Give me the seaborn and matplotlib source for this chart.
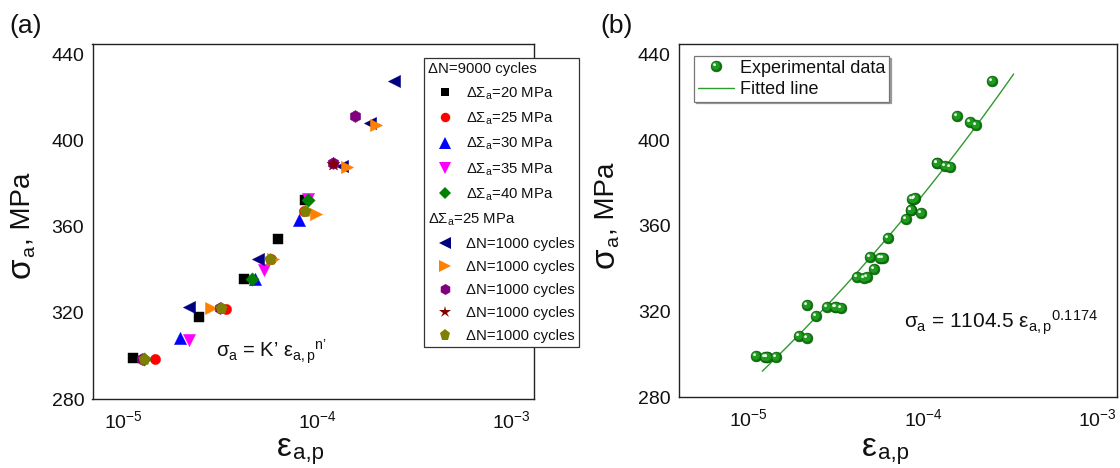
import numpy as np
import matplotlib
matplotlib.use("Agg")
import matplotlib.pyplot as plt
import seaborn as sns
from matplotlib.lines import Line2D
from matplotlib.path import Path
from matplotlib.markers import MarkerStyle
from matplotlib.legend_handler import HandlerTuple
from matplotlib.ticker import LogLocator, MultipleLocator, NullFormatter

sns.set_theme(style="white")
plt.rcParams["font.family"] = ["Liberation Sans", "DejaVu Sans"]
plt.rcParams["mathtext.fontset"] = "custom"
plt.rcParams["mathtext.rm"] = "Liberation Sans"
plt.rcParams["mathtext.it"] = "Liberation Sans"
plt.rcParams["mathtext.bf"] = "Liberation Sans:bold"
plt.rcParams["axes.unicode_minus"] = False
for key in ("text.color", "axes.labelcolor", "xtick.color", "ytick.color"):
    plt.rcParams[key] = "#111111"

# ---- ΔN = 9000 cycles, stress increments ΔΣa = 20 ... 40 MPa ----
strain_d20 = [1.11e-5, 2.43e-5, 4.18e-5, 6.27e-5, 8.60e-5]
stress_d20 = [299.0, 318.0, 336.0, 354.3, 372.4]
strain_d25 = [1.44e-5, 3.37e-5, 5.75e-5, 8.50e-5]
stress_d25 = [298.8, 321.8, 345.2, 367.6]
strain_d30 = [1.95e-5, 4.76e-5, 7.96e-5]
stress_d30 = [308.5, 336.0, 363.1]
strain_d35 = [2.17e-5, 5.25e-5, 8.95e-5]
stress_d35 = [307.4, 339.9, 373.0]
strain_d40 = [1.27e-5, 4.57e-5, 8.85e-5]
stress_d40 = [298.8, 335.6, 372.4]

# ---- ΔΣa = 25 MPa, ΔN = 1000 cycles ----
strain_n1 = [2.17e-5, 4.94e-5, 1.34e-4, 1.86e-4, 2.48e-4]
stress_n1 = [322.9, 345.3, 388.2, 408.5, 427.8]
strain_n2 = [2.81e-5, 5.90e-5, 9.77e-5, 1.42e-4, 2.00e-4]
stress_n2 = [322.1, 345.0, 366.2, 387.6, 407.2]
strain_n3 = [1.24e-5, 3.15e-5, 1.20e-4, 1.56e-4]
stress_n3 = [298.8, 322.1, 389.6, 411.4]
strain_n4 = [1.20e-4]
stress_n4 = [389.4]
strain_n5 = [1.27e-5, 3.17e-5, 5.69e-5, 8.54e-5]
stress_n5 = [298.6, 322.1, 344.9, 367.4]

# power-law fit  σa = K' εa,p^n'
fit_K = 1104.5
fit_n = 0.1174
fit_range = [1.2e-5, 3.3e-4]

header_9000 = "ΔN=9000 cycles"
header_25 = "ΔΣ$_{\\mathrm{a}}$=25 MPa"
labels_9000 = ["ΔΣ$_{\\mathrm{a}}$=20 MPa", "ΔΣ$_{\\mathrm{a}}$=25 MPa",
               "ΔΣ$_{\\mathrm{a}}$=30 MPa", "ΔΣ$_{\\mathrm{a}}$=35 MPa",
               "ΔΣ$_{\\mathrm{a}}$=40 MPa"]
labels_1000 = ["ΔN=1000 cycles"] * 5

group_9000 = list(zip([strain_d20, strain_d25, strain_d30, strain_d35, strain_d40],
                      [stress_d20, stress_d25, stress_d30, stress_d35, stress_d40]))
group_1000 = list(zip([strain_n1, strain_n2, strain_n3, strain_n4, strain_n5],
                      [stress_n1, stress_n2, stress_n3, stress_n4, stress_n5]))

# marker, colour, marker size (pt)
styles_9000 = [("s", "#000000", 7.0), ("o", "#ff0000", 7.4), ("^", "#0000ff", 8.8),
               ("v", "#ff00ff", 8.8), ("D", "#008000", 6.8)]
styles_1000 = [("<", "#000080", 8.8), (">", "#ff8000", 8.8), ("h", "#800080", 8.6),
               ("*", "#800000", 9.8), ("p", "#808000", 8.8)]

W, H = 1120, 468
fig = plt.figure(figsize=(W / 100, H / 100), dpi=100)


def box(l, t, r, b):
    return [l / W, 1 - b / H, (r - l) / W, (b - t) / H]


ax1 = fig.add_axes(box(92.5, 44, 534, 399))
ax2 = fig.add_axes(box(679, 44, 1117, 397))


def style_axes(ax, xlim):
    ax.set_xscale("log")
    ax.set_xlim(*xlim)
    ax.set_ylim(280, 445)
    ax.yaxis.set_major_locator(MultipleLocator(40))
    ax.yaxis.set_minor_locator(MultipleLocator(20))
    ax.xaxis.set_major_locator(LogLocator(base=10, numticks=10))
    ax.xaxis.set_minor_locator(LogLocator(base=10, subs=np.arange(2, 10), numticks=10))
    ax.xaxis.set_minor_formatter(NullFormatter())
    ax.tick_params(which="both", direction="in", top=False, right=False,
                   width=1.0, labelsize=14, color="#222222")
    ax.tick_params(axis="x", which="major", length=5.5, pad=8)
    ax.tick_params(axis="x", which="minor", length=3)
    ax.tick_params(axis="y", which="both", length=5.5, pad=6)
    for sp in ax.spines.values():
        sp.set_visible(True)
        sp.set_color("#222222")
        sp.set_linewidth(1.0)
    ax.grid(False)
    ax.set_facecolor("white")


DESC = 0.212  # descent of the text font, in em


def strain_label(ax, x_px, base_px):
    """'ε' with a smaller 'a,p' subscript, baseline at base_px."""
    e1 = fig.text(x_px / W, 1 - base_px / H, "ε", fontsize=24, ha="left", va="baseline")
    ax.annotate("a,p", xy=(1, 0), xycoords=e1, xytext=(0.6, -0.5),
                textcoords="offset points", fontsize=16, ha="left", va="bottom")


def stress_label(ax, base_px, start_px):
    """Rotated 'σ' with subscript 'a' followed by ', MPa'."""
    big, sub, rest = 24, 14, 20
    s1 = fig.text(base_px / W, 1 - start_px / H, "σ", fontsize=big, rotation=90,
                  rotation_mode="anchor", ha="left", va="baseline")
    s2 = ax.annotate("a", xy=(1, 1), xycoords=s1, xytext=(1.0, 0.6),
                     textcoords="offset points", fontsize=sub, rotation=90,
                     rotation_mode="anchor", ha="left", va="bottom")
    ax.annotate(", MPa", xy=(1, 1), xycoords=(s1, s2),
                xytext=(-DESC * (big - rest), 0.3), textcoords="offset points",
                fontsize=rest, rotation=90, rotation_mode="anchor", ha="left", va="bottom")


# ---------------- panel (a) ----------------
for (xs, ys), (m, c, ms) in zip(group_9000 + group_1000, styles_9000 + styles_1000):
    sns.scatterplot(x=xs, y=ys, ax=ax1, marker=m, color=c, s=ms ** 2,
                    edgecolor=c, linewidth=0.3, legend=False, zorder=3)

style_axes(ax1, (6.9e-6, 1.3e-3))
ax1.set_xlabel("")
ax1.set_ylabel("")
strain_label(ax1, 277, 456)
stress_label(ax1, 30, 278)

blank = Line2D([], [], linestyle="none")
handles, labels = [blank], [header_9000]
for (m, c, ms), lab in zip(styles_9000, labels_9000):
    handles.append(Line2D([], [], linestyle="none", marker=m, color=c,
                          markersize=ms * 0.92, markeredgewidth=0))
    labels.append(lab)
handles.append(blank)
labels.append(header_25)
for (m, c, ms), lab in zip(styles_1000, labels_1000):
    handles.append(Line2D([], [], linestyle="none", marker=m, color=c,
                          markersize=ms * 0.92, markeredgewidth=0))
    labels.append(lab)
header_rows = (0, 6)

leg1 = ax1.legend(handles, labels, loc="upper left", bbox_to_anchor=(0.7509, 0.9606),
                  borderaxespad=0, fontsize=10.7, handlelength=2.2, handletextpad=0.35,
                  borderpad=0.3, labelspacing=0.6, frameon=True, fancybox=False,
                  framealpha=1, edgecolor="#333333")
leg1.get_frame().set_linewidth(0.9)
leg1.set_zorder(10)
# section headers start at the left edge of the legend box
rows = leg1._legend_handle_box.get_children()[0].get_children()
for i in header_rows:
    da, ta = rows[i].get_children()
    da.width = 0
    rows[i].sep = 0

ax1.text(2.98e-5, 299.2, "$σ_{\\mathrm{a}}$ = K’ $ε_{\\mathrm{a,p}}{}^{\\mathrm{n’}}$",
         fontsize=14.5, ha="left", va="baseline")

# ---------------- panel (b) ----------------
strain_all = np.concatenate([np.asarray(x) for x, _ in group_9000 + group_1000])
stress_all = np.concatenate([np.asarray(y) for _, y in group_9000 + group_1000])

fit_x = np.geomspace(fit_range[0], fit_range[1], 200)
fit_y = fit_K * fit_x ** fit_n
sns.lineplot(x=fit_x, y=fit_y, ax=ax2, color="#2f9a2f", linewidth=1.0, sort=False,
             zorder=2, legend=False)


# shaded spheres: dark body, lighter offset core, white glint
def offset_disc(cx, cy, r):
    circ = Path.circle(center=(cx, cy), radius=r)
    verts = np.vstack([[[-1.0, -1.0], [1.0, 1.0]], circ.vertices])
    codes = np.concatenate([[Path.MOVETO, Path.MOVETO], circ.codes])
    return MarkerStyle(Path(verts, codes))


core_marker = offset_disc(-0.12, 0.12, 0.74)
glint_marker = offset_disc(-0.36, 0.34, 0.26)
ball_ms = 7.8
sns.scatterplot(x=strain_all, y=stress_all, ax=ax2, marker="o", s=ball_ms ** 2,
                color="#0d720d", edgecolor="#065a06", linewidth=0.4, legend=False, zorder=3)
sns.scatterplot(x=strain_all, y=stress_all, ax=ax2, marker=core_marker, s=ball_ms ** 2,
                color="#1f9c1f", linewidth=0, legend=False, zorder=4)
sns.scatterplot(x=strain_all, y=stress_all, ax=ax2, marker=glint_marker, s=ball_ms ** 2,
                color="#eef8ee", linewidth=0, legend=False, zorder=5)

style_axes(ax2, (4.0e-6, 1.29e-3))
ax2.set_xlabel("")
ax2.set_ylabel("")
strain_label(ax2, 862, 456)
stress_label(ax2, 614, 268)

ball_h = (Line2D([], [], linestyle="none", marker="o", markersize=ball_ms, color="#0d720d",
                 markeredgecolor="#065a06", markeredgewidth=0.4),
          Line2D([], [], linestyle="none", marker=core_marker, markersize=ball_ms,
                 color="#1f9c1f", markeredgewidth=0),
          Line2D([], [], linestyle="none", marker=glint_marker, markersize=ball_ms,
                 color="#eef8ee", markeredgewidth=0))
line_h = Line2D([], [], color="#2f9a2f", linewidth=1.0)
leg2 = ax2.legend([ball_h, line_h], ["Experimental data", "Fitted line"],
                  handler_map={tuple: HandlerTuple(ndivide=1, pad=0)},
                  loc="upper left", bbox_to_anchor=(0.035, 0.966), borderaxespad=0,
                  fontsize=13, handlelength=2.0, handletextpad=0.33, borderpad=0.2,
                  labelspacing=0.25, frameon=True, fancybox=False, framealpha=1,
                  edgecolor="#777777",
                  shadow={"ox": 1.2, "oy": -1.2, "color": "0.6", "alpha": 1})
leg2.get_frame().set_linewidth(0.9)

ax2.text(7.8e-5, 312.2, "$σ_{\\mathrm{a}}$ = 1104.5 $ε_{\\mathrm{a,p}}{}^{0.1174}$",
         fontsize=15, ha="left", va="baseline")

fig.text(9 / W, 1 - 33 / H, "(a)", fontsize=19, ha="left", va="baseline")
fig.text(600 / W, 1 - 33 / H, "(b)", fontsize=19, ha="left", va="baseline")

fig.savefig("out.png", dpi=100, facecolor="white")
